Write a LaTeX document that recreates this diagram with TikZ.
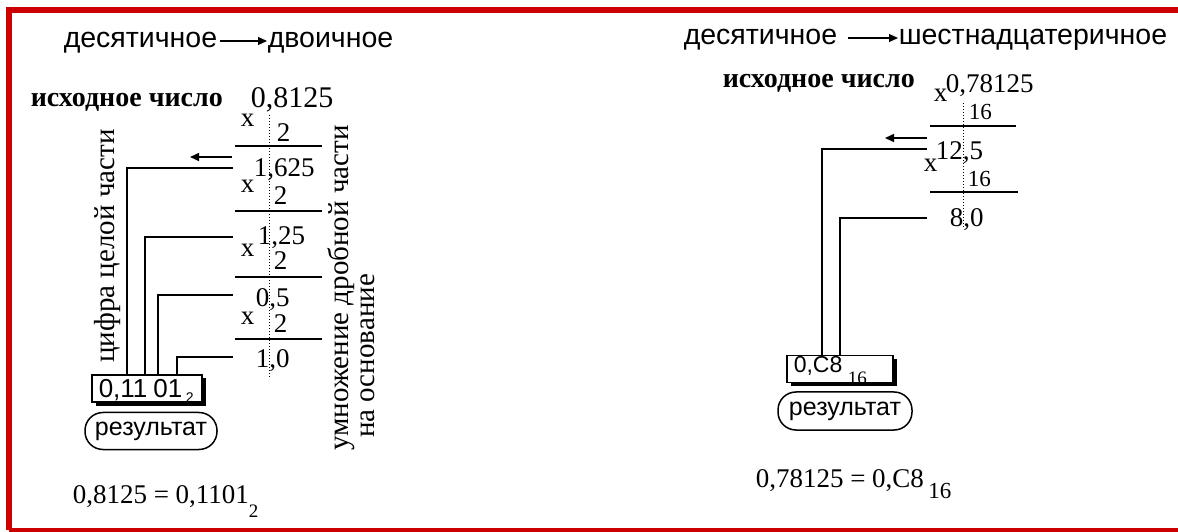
\documentclass[tikz,border=0pt]{standalone}
\usepackage{fontspec}
\setmainfont{Liberation Serif}
\newfontfamily\ruSans{Liberation Sans}
\usetikzlibrary{arrows.meta,shadows}

\begin{document}
\begin{tikzpicture}[x=1bp, y=-1bp, >={Triangle[length=9bp,width=8bp]}, line width=1.5bp,
	every node/.style={inner sep=0pt, anchor=base west},
	hdr/.style={font=\ruSans\fontsize{28.5bp}{30bp}\selectfont},
	src/.style={font=\bfseries\fontsize{28bp}{30bp}\selectfont},
	num/.style={font=\fontsize{27bp}{30bp}\selectfont},
	big/.style={font=\fontsize{30bp}{32bp}\selectfont},
	small/.style={font=\fontsize{23bp}{25bp}\selectfont},
	vlab/.style={font=\fontsize{29bp}{30bp}\selectfont, rotate=90, anchor=center},
	boxtxt/.style={font=\ruSans\fontsize{26bp}{28bp}\selectfont},
	dots/.style={line width=1bp, dash pattern=on 1bp off 2bp},
	res/.style={draw, fill=white, anchor=center, minimum height=27bp,
		drop shadow={shadow xshift=3.5bp, shadow yshift=-3.5bp, opacity=1, fill=black}},
	tag/.style={draw, anchor=center, minimum width=132bp, minimum height=37bp,
		rounded corners=18bp, font=\ruSans\fontsize{25bp}{27bp}\selectfont},
	frame/.style={draw=red!80!black, line width=6bp}]
	\useasboundingbox (0,0) rectangle (1178,532);
	
	% 1. рамка
	\draw[frame] (9,7) -- (9,530);
	\draw[frame] (6,10) -- (1178,10);
	\draw[frame, line width=4bp] (9,530) -- (1178,530);
	
	% 2. заголовки
	\node[hdr] (t1) at (63,48) {десятичное};
	\node[hdr] (t2) at (267,48) {двоичное};
	\draw[->, line width=1.2bp] ([xshift=2bp,yshift=7bp]t1.base east) -- ([yshift=7bp]t2.base west);
	\node[hdr] (t3) at (683,45) {десятичное};
	\node[hdr] (t4) at (898,45) {шестнадцатеричное};
	\draw[->, line width=1.2bp] ([xshift=10bp,yshift=7bp]t3.base east) -- ([yshift=7bp]t4.base west);
	
	% 3. двоичное: столбик умножения
	\node[src] (s1) at (30,107) {исходное число};
	\draw[dots] (269,115) -- (269,378);
	\node[num] (x0) at (240,127) {x};
	\node[big] (n0) at (250,108) {0,8125};
	\node[num] (m1) at (276,142) {2};
	\draw (235,146) -- (322,146);
	\node[num] (n1) at (253,177) {1,625};
	\node[num] (x1) at (240,193) {x};
	\node[num] (m2) at (273,205) {2};
	\draw (235,211) -- (322,211);
	\node[num] (n2) at (257,245) {1,25};
	\node[num] (x2) at (240,257) {x};
	\node[num] (m3) at (273,270) {2};
	\draw (235,277) -- (322,277);
	\node[num] (n3) at (255,307) {0,5};
	\node[num] (x3) at (240,325) {x};
	\node[num] (m4) at (273,333) {2};
	\draw (235,339) -- (322,339);
	\node[num] (n4) at (255,368) {1,0};
	
	% 4. подписи сбоку
	\node[vlab] (v1) at (108,246) {цифра целой части};
	\node[vlab] (v2) at (341,288) {умножение дробной части};
	\node[vlab] (v3) at (368,356) {на основание};
	
	% 5. результат
	\node[res, minimum width=110bp] (b1) at (147,388.5) {};
	\node[boxtxt] (b1t) at (98,397) {0,11\hspace{6bp}01};
	\node[boxtxt, font=\ruSans\fontsize{14bp}{14bp}\selectfont] (b1s) at (185,402) {2};
	\node[tag] (r1) at (151,431) {результат};
	
	% 6. цифры целой части -> результат
	\coordinate (a1) at (232,157); \coordinate (a1e) at (190,157);
	\draw[->] (a1) -- (a1e);
	\coordinate (c1) at (233,168); \coordinate (d1) at (127,375);
	\coordinate (c2) at (233,237); \coordinate (d2) at (145,375);
	\coordinate (c3) at (233,295); \coordinate (d3) at (158,375);
	\coordinate (c4) at (233,357); \coordinate (d4) at (177,375);
	\draw (c1) -| (d1);
	\draw (c2) -| (d2);
	\draw (c3) -| (d3);
	\draw (c4) -| (d4);
	
	\node[num] (e1) at (72,503) {0,8125 = 0,1101\raisebox{-14bp}{\fontsize{19bp}{20bp}\selectfont 2}};
	
	% 7. шестнадцатеричное
	\node[src] (s2) at (722,88) {исходное число};
	\draw[dots] (963,103) -- (963,228);
	\node[num] (y0) at (933,102) {x};
	\node[num] (k0) at (945,93) {0,78125};
	\node[small] (k1) at (968,120) {16};
	\draw (930,126) -- (1016,126);
	\node[num] (k2) at (935,160) {12,5};
	\node[num] (y1) at (923,172) {x};
	\node[small] (k3) at (967,187) {16};
	\draw (930,192) -- (1018,192);
	\node[num] (k4) at (949,227) {8,0};
	
	\node[res, minimum width=106bp] (b2) at (840,369) {};
	\node[boxtxt, font=\ruSans\fontsize{23bp}{25bp}\selectfont] (b2t) at (793,373) {0,C8};
	\node[num, font=\fontsize{19bp}{20bp}\selectfont] (b2s) at (847,385) {16};
	\node[tag, minimum width=134bp, minimum height=38bp] (r2) at (845,411) {результат};
	
	\coordinate (a2) at (927,138); \coordinate (a2e) at (885,138);
	\draw[->] (a2) -- (a2e);
	\coordinate (c5) at (927,149); \coordinate (d5) at (822,355);
	\coordinate (c6) at (927,218); \coordinate (d6) at (840,355);
	\draw (c5) -| (d5);
	\draw (c6) -| (d6);
	
	\node[num] (e2) at (755,487) {0,78125 = 0,C8\,\raisebox{-11bp}{\fontsize{23bp}{24bp}\selectfont 16}};
\end{tikzpicture}
\end{document}
